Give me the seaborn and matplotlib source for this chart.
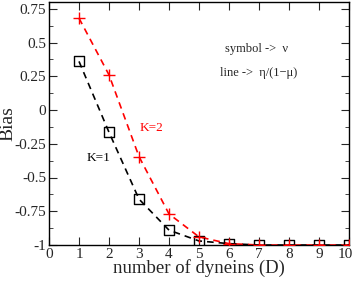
import pandas as pd
import seaborn as sns
import matplotlib.pyplot as plt
from matplotlib.ticker import MultipleLocator
from matplotlib.transforms import ScaledTranslation

dyneins = [1, 2, 3, 4, 5, 6, 7, 8, 9, 10]
bias_k1 = [0.36, -0.165, -0.66, -0.89, -0.97, -0.99, -1.0, -1.0, -1.0, -1.0]
bias_k2 = [0.68, 0.26, -0.345, -0.77, -0.94, -0.99, -1.0, -1.0, -1.0, -1.0]
ytick_vals = [-1, -0.75, -0.5, -0.25, 0, 0.25, 0.5, 0.75]
ytick_text = ['-1', '-0.75', '-0.5', '-0.25', '0', '0.25', '0.5', '0.75']

df = pd.DataFrame({'D': dyneins * 2,
                   'Bias': bias_k1 + bias_k2,
                   'K': ['K=1'] * 10 + ['K=2'] * 10})

sns.set_style('ticks')
plt.rcParams['font.family'] = ['Liberation Serif', 'DejaVu Serif']

fig = plt.figure(figsize=(3.54, 2.84), dpi=100)
ax = fig.add_axes([49 / 354, 1 - 245 / 284, 300 / 354, 243 / 284])

colors = {'K=1': 'black', 'K=2': 'red'}
markers = {'K=1': 's', 'K=2': '+'}
for k, sub in df.groupby('K'):
    sns.lineplot(data=sub, x='D', y='Bias', ax=ax, color=colors[k],
                 linestyle=(0, (4, 3)), linewidth=1.2, legend=False)
    sns.scatterplot(data=sub, x='D', y='Bias', ax=ax, marker=markers[k],
                    s=50 if k == 'K=1' else 80,
                    facecolors='none' if k == 'K=1' else colors[k],
                    edgecolors=colors[k], linewidth=1.0, legend=False, zorder=3)

ax.set_xlim(0, 10)
ax.set_ylim(-1, 0.8)
ax.set_xticks(range(0, 11))
ax.yaxis.set_minor_locator(MultipleLocator(0.125))
ax.set_yticks(ytick_vals)
ax.set_yticklabels(ytick_text)
ax.tick_params(which='both', direction='in', top=True, right=True, labelsize=11, pad=2)
ax.tick_params(which='major', length=6)
ax.tick_params(which='minor', length=3)
for sp in ax.spines.values():
    sp.set_linewidth(1.0)
    sp.set_color('black')

# nudge the "10" label so it stays inside the figure
last = ax.get_xticklabels()[-1]
last.set_transform(last.get_transform() + ScaledTranslation(-0.04, 0, fig.dpi_scale_trans))

ax.set_xlabel('number of dyneins (D)', fontsize=13.5, labelpad=-1)
ax.set_ylabel('Bias', fontsize=14)
ax.yaxis.set_label_coords(-0.11, 0.5)

ax.text(1.66, -0.355, 'K=1', fontsize=9.5, color='black', ha='center', va='center')
ax.text(3.43, -0.13, 'K=2', fontsize=9.5, color='red', ha='center', va='center')
ax.text(5.87, 0.453, 'symbol ->  ν', fontsize=9, va='center')
ax.text(5.7, 0.275, 'line ->  η/(1−μ)', fontsize=9, va='center')

fig.savefig('out.png', dpi=100)
